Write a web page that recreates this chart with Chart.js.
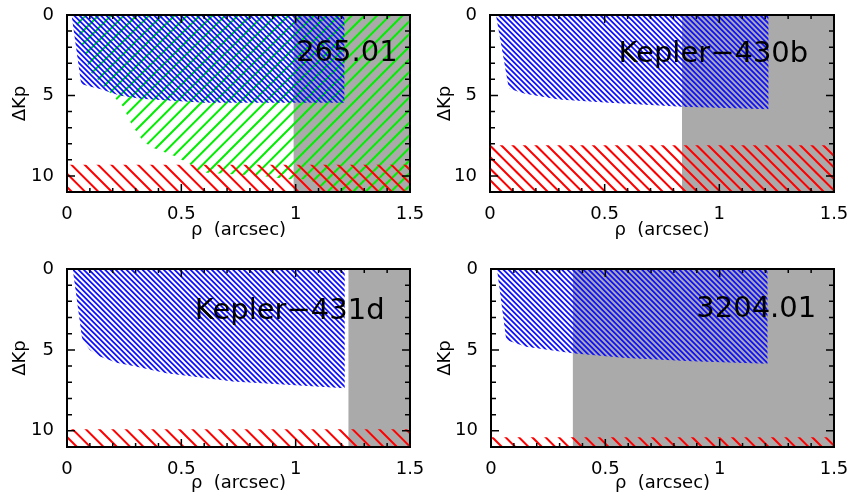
<!DOCTYPE html>
<html>
<head>
<meta charset="utf-8">
<script src="https://cdn.jsdelivr.net/npm/chart.js@4.4.0/dist/chart.umd.min.js"></script>
<style>
  body { margin: 0; background: #fff; }
  .panel { position: absolute; width: 425px; height: 250px; }
</style>
</head>
<body>
<div class="panel" style="left:0;top:0"><canvas id="c1" width="425" height="250"></canvas></div>
<div class="panel" style="left:425px;top:0"><canvas id="c2" width="425" height="250"></canvas></div>
<div class="panel" style="left:0;top:250px"><canvas id="c3" width="425" height="250"></canvas></div>
<div class="panel" style="left:425px;top:250px"><canvas id="c4" width="425" height="250"></canvas></div>
<script>
// axes
const rhoTicks = [0, 0.5, 1, 1.5];
const dkpTicks = [0, 5, 10];
const rhoMax = 1.5;
const dkpMax = 11;

const panelNames = ['265.01', 'Kepler\u2212430b', 'Kepler\u2212431d', '3204.01'];

// 265.01
const koi265BlueRho = [0.02, 0.06, 0.065, 0.1, 0.144, 0.23, 0.32, 0.43, 0.6, 1.214];
const koi265BlueDkp = [0, 4.1, 4.3, 4.45, 4.6, 5.0, 5.2, 5.3, 5.45, 5.45];
const koi265GreenRho = [0.03, 0.1, 0.2, 0.245, 0.284, 0.33, 0.367, 0.47, 0.537, 0.568, 0.611, 0.856, 0.97, 1.06, 1.1, 1.15, 1.5];
const koi265GreenDkp = [0, 3.5, 5.0, 5.68, 6.85, 7.78, 8.2, 8.77, 9.26, 9.63, 9.81, 10.0, 10.2, 10.2, 10.6, 11, 11];
const koi265RedDkp = 9.3;
const koi265GrayRho = 0.99;

// Kepler-430b
const k430BlueRho = [0.026, 0.08, 0.087, 0.153, 0.3, 0.52, 0.837, 1.215];
const k430BlueDkp = [0, 4.4, 4.6, 4.9, 5.25, 5.45, 5.7, 5.85];
const k430RedDkp = 8.1;
const k430GrayRho = 0.837;

// Kepler-431d
const k431BlueRho = [0.025, 0.065, 0.069, 0.1, 0.144, 0.217, 0.29, 0.435, 0.726, 1.017, 1.215];
const k431BlueDkp = [0, 4.2, 4.4, 5.0, 5.4, 5.8, 6.0, 6.45, 6.95, 7.2, 7.37];
const k431RedDkp = 9.9;
const k431GrayRho = 1.23;

// 3204.01
const koi3204BlueRho = [0.026, 0.065, 0.07, 0.153, 0.357, 0.59, 0.88, 1.21];
const koi3204BlueDkp = [0, 4.2, 4.4, 4.8, 5.2, 5.5, 5.7, 5.85];
const koi3204RedDkp = 10.4;
const koi3204GrayRho = 0.357;

const font = { family: '"DejaVu Sans", sans-serif', size: 18 };

// diagonal line pattern, n lines per tile
function hatch(color, tile, n, dir, lw) {
    const c = document.createElement('canvas');
    c.width = tile;
    c.height = tile;
    const g = c.getContext('2d');
    g.strokeStyle = color;
    g.lineWidth = lw;
    const step = tile / n;
    g.beginPath();
    for (let i = -n; i <= 2 * n; i++) {
        const c0 = i * step;
        if (dir === 'back') {
            g.moveTo(c0 - 3, -3);
            g.lineTo(c0 + tile + 3, tile + 3);
        } else {
            g.moveTo(c0 + 3, -3);
            g.lineTo(c0 - tile - 3, tile + 3);
        }
    }
    g.stroke();
    return g.createPattern(c, 'repeat');
}

function region(xs, ys, fillTo, bg, order) {
    return {
        data: xs.map((x, i) => ({ x: x, y: ys[i] })),
        fill: { value: fillTo },
        backgroundColor: bg,
        borderColor: 'rgba(0,0,0,0)',
        borderWidth: 0,
        pointRadius: 0,
        tension: 0,
        order: order
    };
}

const blue = () => hatch('#0f0fff', 16, 3, 'back', 1.8);
const green = () => hatch('#00ee00', 38, 3, 'fwd', 2);
const red = (tile, n) => hatch('#ff0000', tile, n, 'back', 2);
const gray = '#aaaaaa';

// frame, inside ticks and the panel name
const decor = {
    id: 'decor',
    afterDatasetsDraw(chart, args, opts) {
        const { ctx, chartArea: a, scales: { x, y } } = chart;
        ctx.save();
        ctx.font = '29px "DejaVu Sans"';
        ctx.fillStyle = '#000';
        ctx.textAlign = 'center';
        ctx.textBaseline = 'middle';
        ctx.fillText(opts.text, x.getPixelForValue(opts.x), y.getPixelForValue(opts.y));

        ctx.strokeStyle = '#000';
        ctx.lineWidth = 1.5;
        ctx.beginPath();
        for (let i = 0; i <= 15; i++) {
            const px = x.getPixelForValue(i / 10);
            const len = i % 5 === 0 ? 8 : 4;
            ctx.moveTo(px, a.bottom);
            ctx.lineTo(px, a.bottom - len);
            ctx.moveTo(px, a.top);
            ctx.lineTo(px, a.top + len);
        }
        for (let v = 0; v <= dkpMax; v++) {
            const py = y.getPixelForValue(v);
            const len = v % 5 === 0 ? 8 : 5;
            ctx.moveTo(a.left, py);
            ctx.lineTo(a.left + len, py);
            ctx.moveTo(a.right, py);
            ctx.lineTo(a.right - len, py);
        }
        ctx.stroke();
        ctx.lineWidth = 2;
        ctx.strokeRect(a.left, a.top, a.right - a.left, a.bottom - a.top);
        ctx.restore();
    }
};

function makePanel(id, cfg) {
    new Chart(document.getElementById(id), {
        type: 'line',
        data: { datasets: cfg.datasets },
        plugins: [decor],
        options: {
            responsive: false,
            animation: false,
            layout: { padding: { left: 0, right: cfg.padRight, top: cfg.padTop, bottom: 0 } },
            plugins: {
                legend: { display: false },
                tooltip: { enabled: false },
                decor: cfg.label
            },
            scales: {
                x: {
                    type: 'linear',
                    min: 0,
                    max: rhoMax,
                    afterBuildTicks: s => { s.ticks = rhoTicks.map(v => ({ value: v })); },
                    afterFit: s => { s.height = cfg.xAxisH; s.paddingLeft = 0; s.paddingRight = 0; },
                    grid: { display: false },
                    border: { display: false },
                    ticks: { font: font, color: '#000', padding: 4, maxRotation: 0, autoSkip: false, callback: v => String(v) },
                    title: { display: true, text: 'ρ  (arcsec)', font: font, color: '#000', padding: { top: 0, bottom: cfg.titlePad } }
                },
                y: {
                    type: 'linear',
                    reverse: true,
                    min: 0,
                    max: dkpMax,
                    afterBuildTicks: s => { s.ticks = dkpTicks.map(v => ({ value: v })); },
                    afterFit: s => { s.width = cfg.yAxisW; s.paddingTop = 0; s.paddingBottom = 0; },
                    grid: { display: false },
                    border: { display: false },
                    ticks: { font: font, color: '#000', padding: 5, autoSkip: false },
                    title: { display: true, text: 'ΔKp', font: font, color: '#000', padding: { top: 10, bottom: 0 } }
                }
            }
        }
    });
}

makePanel('c1', {
    padRight: 15, padTop: 15, yAxisW: 67, xAxisH: 58, titlePad: 9,
    label: { text: panelNames[0], x: 1.224, y: 2.4 },
    datasets: [
        region([koi265GrayRho, rhoMax], [dkpMax, dkpMax], 0, gray, 5),
        region(koi265GreenRho, koi265GreenDkp, 0, green(), 4),
        region([0, rhoMax], [koi265RedDkp, koi265RedDkp], dkpMax, red(40, 3), 3),
        region(koi265BlueRho, koi265BlueDkp, 0, blue(), 1)
    ]
});

makePanel('c2', {
    padRight: 16, padTop: 15, yAxisW: 65, xAxisH: 58, titlePad: 9,
    label: { text: panelNames[1], x: 0.974, y: 2.47 },
    datasets: [
        region([k430GrayRho, rhoMax], [dkpMax, dkpMax], 0, gray, 5),
        region([0, rhoMax], [k430RedDkp, k430RedDkp], dkpMax, red(23, 2), 3),
        region(k430BlueRho, k430BlueDkp, 0, blue(), 1)
    ]
});

makePanel('c3', {
    padRight: 15, padTop: 19, yAxisW: 67, xAxisH: 53, titlePad: 6,
    label: { text: panelNames[2], x: 0.974, y: 2.65 },
    datasets: [
        region([k431GrayRho, rhoMax], [dkpMax, dkpMax], 0, gray, 5),
        region([0, rhoMax], [k431RedDkp, k431RedDkp], dkpMax, red(40, 3), 3),
        region(k431BlueRho, k431BlueDkp, 0, blue(), 1)
    ]
});

makePanel('c4', {
    padRight: 16, padTop: 19, yAxisW: 66, xAxisH: 53, titlePad: 6,
    label: { text: panelNames[3], x: 1.16, y: 2.53 },
    datasets: [
        region([koi3204GrayRho, rhoMax], [dkpMax, dkpMax], 0, gray, 5),
        region([0, rhoMax], [koi3204RedDkp, koi3204RedDkp], dkpMax, red(40, 3), 3),
        region(koi3204BlueRho, koi3204BlueDkp, 0, blue(), 1)
    ]
});
</script>
</body>
</html>
